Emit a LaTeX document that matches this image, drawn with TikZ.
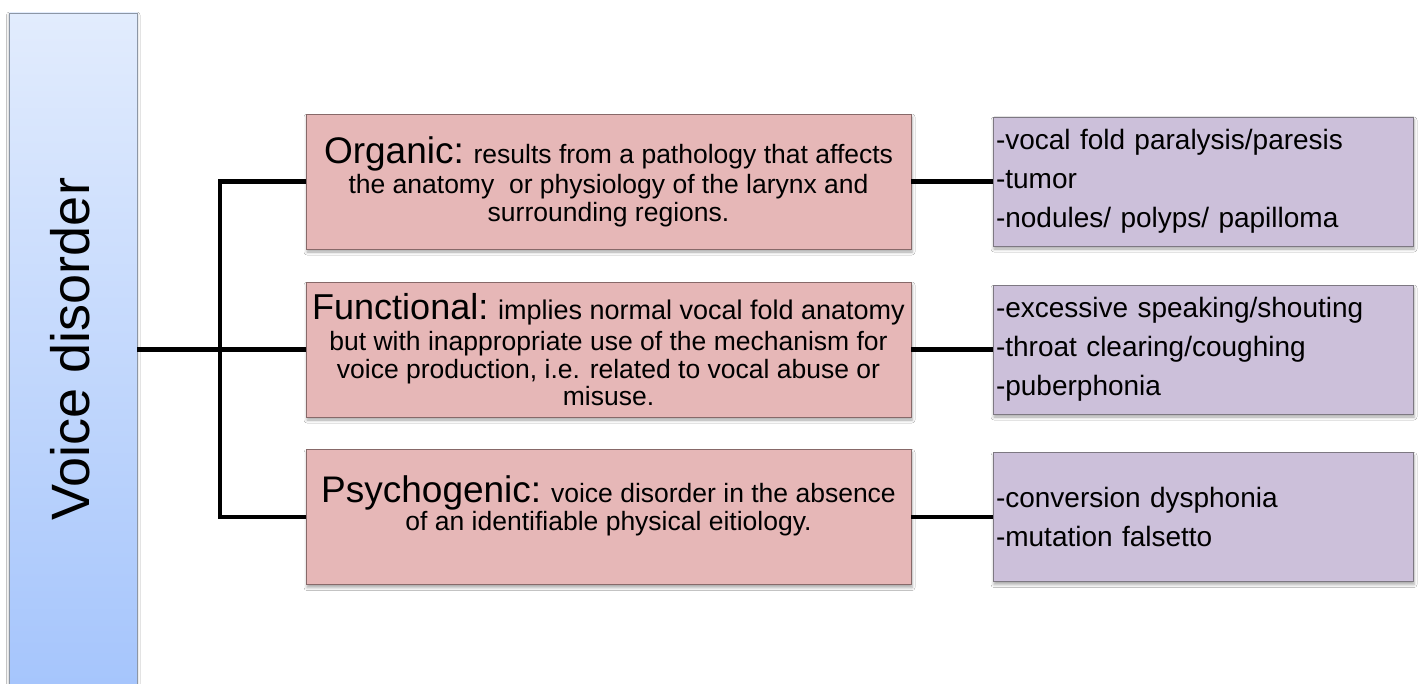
\documentclass[tikz,border=0pt]{standalone}
\usepackage{fontspec}
\setmainfont{Liberation Sans}
\usetikzlibrary{shadows.blur}
\definecolor{pinkfill}{RGB}{230,183,183}
\definecolor{pinkdraw}{RGB}{135,105,105}
\definecolor{purpfill}{RGB}{204,192,218}
\definecolor{purpdraw}{RGB}{125,120,130}
\definecolor{bartop}{RGB}{226,236,253}
\definecolor{barbot}{RGB}{164,196,252}
\definecolor{bardraw}{RGB}{140,150,165}
\newcommand\bigword[1]{{\fontsize{37}{40}\selectfont #1}}
\begin{document}
\begin{tikzpicture}[x=1pt,y=-1pt,
  softshadow/.style={blur shadow={shadow xshift=1pt, shadow yshift=-3pt, shadow blur radius=3pt, shadow opacity=35}},
  cat/.style={draw=pinkdraw, fill=pinkfill, line width=0.8pt, minimum width=605pt, minimum height=135pt,
    inner sep=0pt, align=center, font=\fontsize{26.5}{27.5}\selectfont, softshadow},
  ex/.style={draw=purpdraw, fill=purpfill, line width=0.8pt, minimum height=129pt, text width=414pt,
    inner xsep=3pt, inner ysep=0pt, align=left, font=\fontsize{28}{39}\selectfont, softshadow},
  bar/.style={draw=bardraw, line width=0.8pt, top color=bartop, bottom color=barbot,
    minimum width=127.5pt, minimum height=690pt, inner sep=0pt,
    blur shadow={shadow xshift=0pt, shadow yshift=-2pt, shadow blur radius=3pt, shadow opacity=35}},
  conn/.style={line width=4.5pt, black}
]
\clip (0,0) rectangle (1420,684);
\fill[white] (0,0) rectangle (1420,684);

% left bar
\node[bar] (vd) at (73.25,358) {};
\node[rotate=90, font=\fontsize{54}{60}\selectfont] (vdtext) at (70,349) {Voice disorder};

% category boxes
\node[cat] (org) at (608.5,181.5) {\bigword{Organic:} results from a pathology that affects\\[3pt]
  the anatomy\ \ or physiology of the larynx and\\ surrounding regions.};
\node[cat] (fun) at (608.5,349.5) {{\fontsize{36}{40}\selectfont Functional:} {\fontsize{27}{27.5}\selectfont implies normal vocal fold anatomy}\\[4pt]
  but with inappropriate use of the mechanism for\\ voice production, i.e. related to vocal abuse or\\ misuse.};
\node[cat] (psy) at (608.5,517) {\bigword{Psychogenic:} voice disorder in the absence\\
  of an identifiable physical eitiology.\\ \mbox{}};

% example boxes
\node[ex] (e1) at (1203,181.5) {-vocal fold paralysis/paresis\\ -tumor\\ -nodules/ polyps/ papilloma};
\node[ex] (e2) at (1203,349.5) {-excessive speaking/shouting\\ -throat clearing/coughing\\ -puberphonia};
\node[ex] (e3) at (1203,517) {-conversion dysphonia\\ -mutation falsetto};

% connectors
\coordinate (j) at (220,349.5);
\draw[conn] (vd.east |- fun.west) -- (fun.west);
\draw[conn, line join=miter] (org.west) -| (j) |- (psy.west);
\draw[conn] (org.east) -- (e1.west);
\draw[conn] (fun.east) -- (e2.west);
\draw[conn] (psy.east) -- (e3.west);
\end{tikzpicture}
\end{document}
